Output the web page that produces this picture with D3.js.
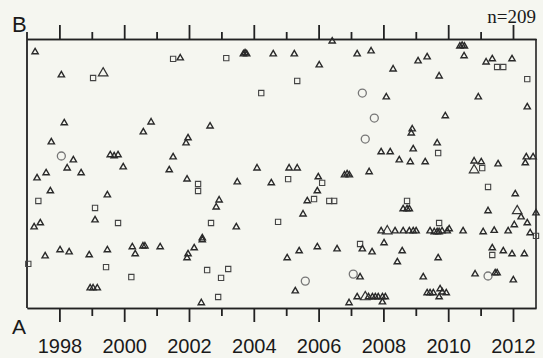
<!DOCTYPE html>
<html>
<head>
<meta charset="utf-8">
<script src="https://cdn.jsdelivr.net/npm/d3@7"></script>
<style>
  body { margin: 0; background: #f5f6f0; }
  svg { display: block; }
</style>
</head>
<body>
<div id="chart"></div>
<script>
// Years on the axis
const majorYears = [1998, 2000, 2002, 2004, 2006, 2008, 2010, 2012];
const minorYears = [1999, 2001, 2003, 2005, 2007, 2009, 2011];

// Position between A (0) and B (100)
const triangles = [
  [1997.25,95.2],[1998.06,86.6],[2003.68,94.4],[2003.73,94.8],[2003.78,94.4],[2004.60,94.4],[2005.25,94.4],
  [2006.42,99.2],[2007.19,94.4],[2006.02,90.3],[2001.73,92.9],[2007.62,95.5],[2009.07,91.8],[2009.35,93.3],
  [2008.30,88.8],[2009.72,86.2],[2010.36,97.3],[2010.43,97.6],[2010.50,97.3],[2010.49,93.7],[2011.17,91.4],
  [2011.36,92.6],[2011.97,92.6],[2008.09,78.4],[2010.93,78.4],[2012.44,74.7],[2009.91,71.4],
  [1998.15,68.8],[2000.83,69.1],[2000.59,65.4],[1997.75,61.7],[1999.57,56.9],[1999.69,56.5],[1999.81,56.9],
  [2001.51,56.1],[1998.43,55.0],[1998.24,52.0],[1999.97,52.4],[2001.39,51.3],[1997.59,50.2],[1998.67,50.2],
  [1997.31,48.3],[1997.72,43.5],[1999.48,42.0],[1999.10,32.7],[1997.22,30.1],[1997.41,31.6],
  [2002.65,67.6],[2001.97,63.2],[2001.91,61.3],[2004.10,52.0],[2005.09,52.0],[2005.34,52.0],[2006.80,49.4],
  [2006.88,49.8],[2006.95,49.4],[2001.94,47.9],[2003.49,46.8],[2004.54,46.5],[2005.99,48.7],[2005.96,43.5],
  [2005.65,39.8],[2002.93,40.1],[2002.84,37.5],[2005.52,34.9],[2003.46,30.1],[2002.41,26.0],
  [2008.89,66.5],[2008.86,65.0],[2009.66,61.3],[2008.92,59.1],[2007.93,58.0],[2008.21,58.0],[2008.49,55.0],
  [2008.83,54.3],[2009.29,54.3],[2012.41,56.1],[2012.62,56.1],[2012.38,53.9],[2010.80,54.6],[2011.02,54.3],
  [2011.54,53.5],[2007.56,50.6],[2012.07,42.4],[2008.61,36.8],[2008.73,36.8],[2008.80,36.8],[2011.23,36.1],
  [2012.25,33.8],[2012.71,35.3],[2012.04,30.9],[2012.44,31.6],
  [2007.93,28.6],[2008.36,28.6],[2008.61,28.6],[2008.80,28.6],[2008.92,28.6],[2009.01,28.6],[2009.44,28.6],
  [2009.57,28.3],[2009.66,28.3],[2009.72,28.3],[2009.81,28.6],[2009.97,28.6],[2010.03,29.4],[2010.46,28.6],
  [2011.08,28.3],[2011.42,28.8],[2011.85,28.6],[2012.53,27.9],
  [1997.56,19.3],[1998.02,21.6],[1998.30,20.8],[1998.92,19.7],[1999.48,21.6],[1998.95,7.4],[1999.04,7.4],
  [1999.17,7.4],[2000.25,22.7],[2000.34,20.1],[2000.58,23.0],[2000.64,23.0],[2001.11,22.7],[2001.94,18.6],
  [2001.97,20.1],[2002.16,22.3],[2002.41,25.3],[2002.38,1.9],[2005.03,18.6],[2005.40,21.2],[2005.96,22.7],
  [2006.57,21.9],[2005.28,6.3],[2006.94,1.9],[2007.19,4.1],[2007.35,21.9],[2008.02,24.2],[2007.65,20.8],
  [2008.58,21.2],[2008.43,17.1],[2009.69,18.6],[2009.23,11.5],[2009.35,5.6],[2009.44,5.6],[2009.54,5.6],
  [2009.75,7.1],[2009.82,5.9],[2009.94,5.6],[2009.72,4.1],[2007.54,4.1],[2007.66,4.1],[2007.75,4.1],
  [2007.84,4.1],[2007.97,4.1],[2008.06,4.1],[2007.97,2.2],[2007.28,11.5],[2011.36,22.3],[2011.70,21.2],
  [2011.97,20.1],[2012.35,20.1],[2010.83,12.6],[2011.45,13.0],[2011.51,13.0],[2012.01,10.4]
];
const bigTriangles = [[1999.35,87.3],[2010.80,51.3],[2008.12,28.6],[2012.13,36.1],[2007.44,4.1]];
const squares = [
  [1999.04,85.5],[2001.51,92.6],[2003.15,92.9],[2005.34,84.4],[2004.23,79.9],[2011.51,89.6],[2011.70,89.6],
  [2012.44,85.1],[1997.35,39.8],[1999.10,37.2],[1999.81,31.6],[2002.28,46.1],[2002.28,43.5],[2005.06,47.9],
  [2006.11,46.5],[2005.86,40.5],[2006.33,39.8],[2006.48,39.8],[2002.68,31.6],[2004.75,32.0],[2009.69,57.6],
  [2011.05,52.0],[2011.23,45.0],[2008.73,39.8],[2009.72,31.6],[2012.71,26.8],[1997.04,16.4],[1999.44,15.2],
  [2000.22,11.5],[2002.56,14.1],[2002.99,11.2],[2003.21,14.5],[2002.90,4.1],[2007.28,23.8],[2011.36,19.7]
];
const circles = [[1998.06,56.5],[2007.35,79.9],[2007.72,70.6],[2007.44,62.8],[2005.59,10.0],[2007.07,12.6],[2011.23,11.9]];

const margin = { top: 39, right: 7, bottom: 50, left: 27 },
    width = 543 - margin.left - margin.right,
    height = 358 - margin.top - margin.bottom;

const svg = d3.select("#chart")
    .append("svg")
    .attr("width", 543)
    .attr("height", 358)
    .style("background", "#f5f6f0");

const g = svg.append("g")
    .attr("transform", `translate(${margin.left},${margin.top})`);

const x = d3.scaleLinear().domain([1997, 2012.71]).range([0, width]);
const y = d3.scaleLinear().domain([0, 100]).range([height, 0]);

const ink = "#222";

// axes top and bottom, ticks on both, labels only at the bottom
function ticks(axisFn, values, size, yPos, labels) {
    const a = g.append("g")
        .attr("transform", `translate(0,${yPos})`)
        .call(axisFn(x).tickValues(values).tickSize(size).tickSizeOuter(0)
            .tickPadding(17)
            .tickFormat(labels ? d3.format("d") : ""));
    a.select(".domain").attr("stroke", ink).attr("stroke-width", 1.6);
    a.selectAll(".tick line").attr("stroke", ink).attr("stroke-width", 1.8);
    a.selectAll("text")
        .attr("fill", "#1a1a1a")
        .style("font-family", "'Liberation Sans', Arial, sans-serif")
        .style("font-size", "20px");
    return a;
}
ticks(d3.axisTop, majorYears, 14, 0, false);
ticks(d3.axisTop, minorYears, 7, 0, false);
ticks(d3.axisBottom, majorYears, 14, height, true);
ticks(d3.axisBottom, minorYears, 8, height, false);

// side lines
g.append("line").attr("x1", 0).attr("x2", 0).attr("y1", -7).attr("y2", height)
    .attr("stroke", ink).attr("stroke-width", 1.8);
g.append("line").attr("x1", width).attr("x2", width).attr("y1", 0).attr("y2", height)
    .attr("stroke", ink).attr("stroke-width", 1.6);

// markers
const tri = d3.symbol().type(d3.symbolTriangle).size(17);
const triBig = d3.symbol().type(d3.symbolTriangle).size(40);
const sq = d3.symbol().type(d3.symbolSquare).size(28);

g.selectAll(".sq").data(squares).join("path")
    .attr("d", sq)
    .attr("transform", d => `translate(${x(d[0])},${y(d[1])})`)
    .attr("fill", "none").attr("stroke", "#444").attr("stroke-width", 1.1);

g.selectAll(".ci").data(circles).join("circle")
    .attr("cx", d => x(d[0])).attr("cy", d => y(d[1])).attr("r", 4)
    .attr("fill", "none").attr("stroke", "#777").attr("stroke-width", 1.3);

g.selectAll(".tr").data(triangles).join("path")
    .attr("d", tri)
    .attr("transform", d => `translate(${x(d[0])},${y(d[1])})`)
    .attr("fill", "none").attr("stroke", "#2a2a2a").attr("stroke-width", 1.4);

g.selectAll(".tb").data(bigTriangles).join("path")
    .attr("d", triBig)
    .attr("transform", d => `translate(${x(d[0])},${y(d[1])})`)
    .attr("fill", "none").attr("stroke", "#333").attr("stroke-width", 1.2);

// labels
svg.append("text").attr("x", 12).attr("y", 32).text("B")
    .style("font-family", "'Liberation Sans', Arial, sans-serif").style("font-size", "22px").attr("fill", "#1a1a1a");
svg.append("text").attr("x", 12).attr("y", 334).text("A")
    .style("font-family", "'Liberation Sans', Arial, sans-serif").style("font-size", "21px").attr("fill", "#1a1a1a");
svg.append("text").attr("x", 536).attr("y", 23).attr("text-anchor", "end").text("n=209")
    .style("font-family", "'Liberation Serif', 'Times New Roman', serif").style("font-size", "19px").attr("fill", "#1a1a1a");
</script>
</body>
</html>
